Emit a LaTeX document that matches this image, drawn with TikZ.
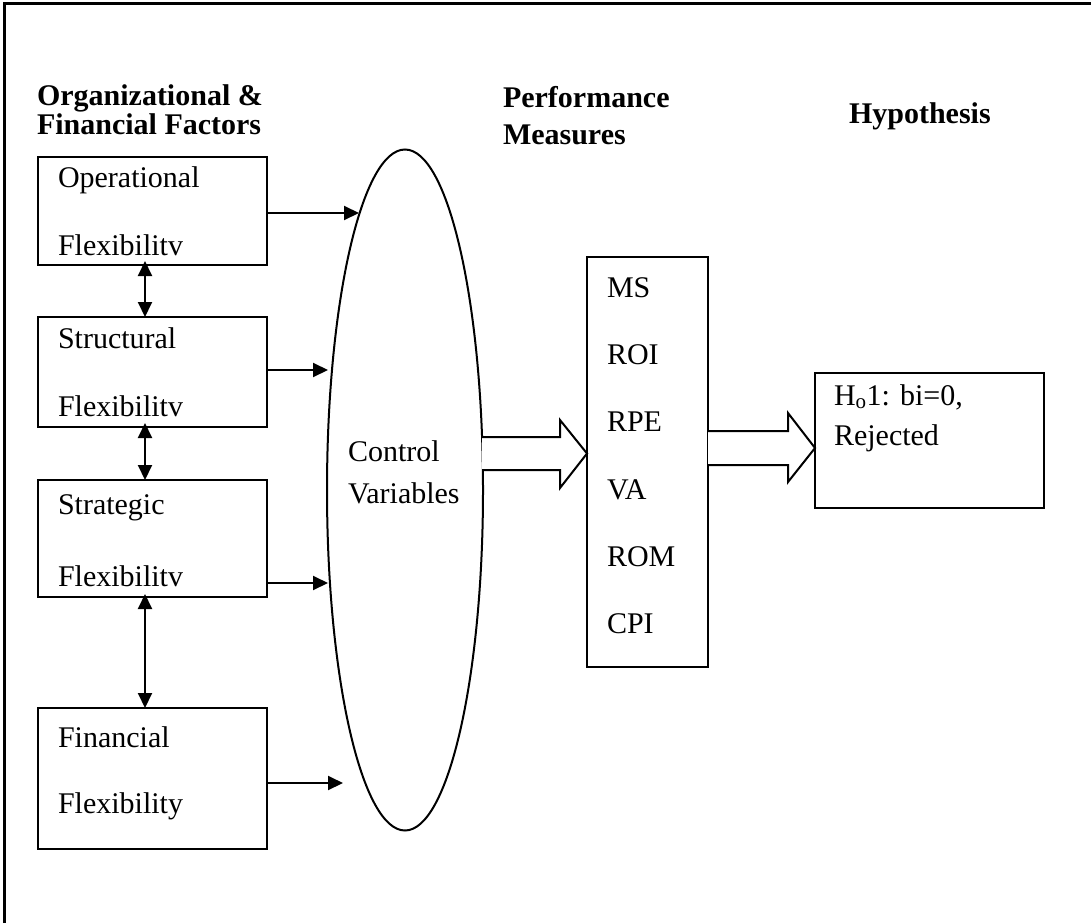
\documentclass[tikz,border=0pt]{standalone}
\usepackage{fontspec}
\setmainfont{Liberation Serif}
\usetikzlibrary{arrows.meta,shapes.geometric}
\begin{document}
\begin{tikzpicture}[x=1pt,y=-1pt,
  every node/.style={inner sep=0pt, outer sep=0pt},
  txt/.style={anchor=base west, font=\fontsize{30}{36}\selectfont},
  head/.style={anchor=base west, font=\fontsize{30}{36}\selectfont\bfseries},
  fbox/.style={draw, line width=2pt, anchor=north west, minimum width=229pt},
  conn/.style={line width=2pt, -{Triangle[length=15pt,width=14pt]}},
  dconn/.style={line width=2pt, {Triangle[length=15pt,width=14pt]}-{Triangle[length=15pt,width=14pt]}},
  barrow/.style={draw, line width=2pt, fill=white, line join=miter}]
\useasboundingbox (0,0) rectangle (1091,923);
% outer frame (top and left sides visible)
\draw[line width=3pt] (4,923) -- (4,4) -- (1091,4);

% headings
\node[head] (h1a) at (37,106) {Organizational \&};
\node[head] (h1b) at (37,135) {Financial Factors};
\node[head] (h2a) at (503,107) {Performance};
\node[head] (h2b) at (503,144) {Measures};
\node[head] (h3) at (849,124) {Hypothesis};

% left boxes
\node[fbox, minimum height=108pt] (op) at (38,157) {};
\node[txt] (opa) at (58,187) {Operational};
\node[txt] (opb) at (58,255) {Flexibilitv};

\node[fbox, minimum height=110pt] (sb) at (38,317) {};
\node[txt] (sba) at (58,348) {Structural};
\node[txt] (sbb) at (58,416) {Flexibilitv};

\node[fbox, minimum height=117pt] (sg) at (38,480) {};
\node[txt] (sga) at (58,514) {Strategic};
\node[txt] (sgb) at (58,586) {Flexibilitv};

\node[fbox, minimum height=141pt] (fi) at (38,708) {};
\node[txt] (fia) at (58,747) {Financial};
\node[txt] (fib) at (58,813) {Flexibility};

% control variables ellipse
\node[draw, ellipse, line width=2pt, minimum width=156pt, minimum height=681pt] (cv) at (405,490) {};
\node[txt] (cva) at (348,461) {Control};
\node[txt] (cvb) at (348,503) {Variables};

% performance box
\node[draw, line width=2pt, anchor=north west, minimum width=121pt, minimum height=410pt] (pm) at (587,257) {};
\node[txt] (m1) at (607,297) {MS};
\node[txt] (m2) at (607,364) {ROI};
\node[txt] (m3) at (607,431) {RPE};
\node[txt] (m4) at (607,499) {VA};
\node[txt] (m5) at (607,566) {ROM};
\node[txt] (m6) at (607,633) {CPI};

% hypothesis box
\node[draw, line width=2pt, anchor=north west, minimum width=229pt, minimum height=135pt] (hy) at (815,373) {};
\node[txt] (hya) at (834,405) {H\textsubscript{o}1: bi=0,};
\node[txt] (hyb) at (834,445) {Rejected};

% arrows into ellipse
\coordinate (t1) at (359,213);
\coordinate (t2) at (328,370);
\coordinate (t3) at (328,583);
\coordinate (t4) at (343,783);
\draw[conn] (op.east |- t1) -- (t1);
\draw[conn] (sb.east |- t2) -- (t2);
\draw[conn] (sg.east |- t3) -- (t3);
\draw[conn] (fi.east |- t4) -- (t4);

% double arrows between boxes
\draw[dconn] ([xshift=-7.5pt,yshift=4pt]op.south) -- ([xshift=-7.5pt]sb.north);
\draw[dconn] ([xshift=-7.5pt,yshift=4pt]sb.south) -- ([xshift=-7.5pt]sg.north);
\draw[dconn] ([xshift=-7.5pt,yshift=3pt]sg.south) -- ([xshift=-7.5pt]fi.north);

% block arrows
\draw[barrow] (482,437) -- (560,437) -- (560,420) -- (pm.west |- 0,453.5) -- (560,488) -- (560,470) -- (482,470);
\draw[barrow] (pm.east |- 0,431) -- (788,431) -- (788,413) -- (hy.west |- 0,448) -- (788,482) -- (788,465) -- (pm.east |- 0,465);
\end{tikzpicture}
\end{document}
